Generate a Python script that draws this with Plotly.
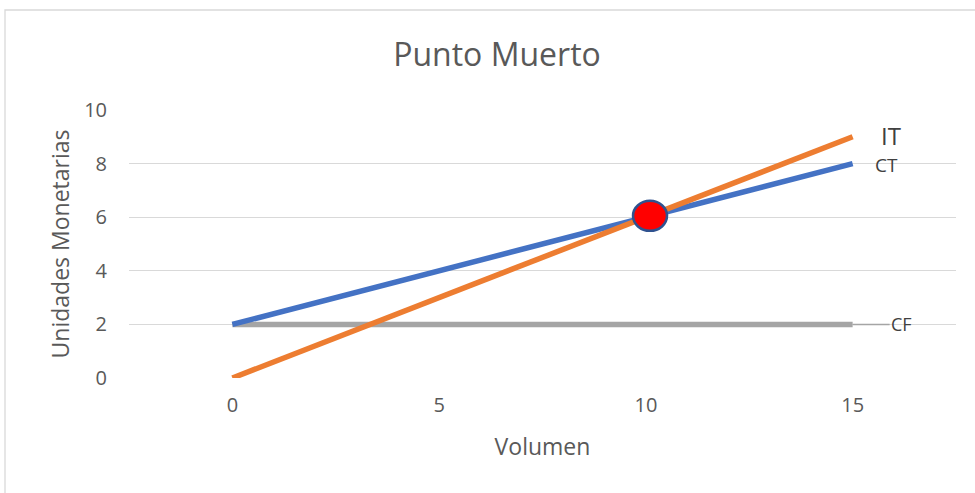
import plotly.graph_objects as go

# Break-even chart data
volumen = [0, 15]
ingreso_total = [0, 9]     # IT
coste_total = [2, 8]       # CT
coste_fijo = [2, 2]        # CF
punto_muerto = (10.1, 6.05)

x_ticks = [0, 5, 10, 15]
y_ticks = [0, 2, 4, 6, 8, 10]

FONT = "Open Sans"
GREY_TEXT = "#595959"

W, H = 975, 493
ML, MR, MT, MB = 129, 19, 110, 115

fig = go.Figure()

fig.add_trace(go.Scatter(x=volumen, y=coste_fijo, mode="lines",
                         line=dict(color="#A5A5A5", width=5.5), name="CF"))
fig.add_trace(go.Scatter(x=volumen, y=coste_total, mode="lines",
                         line=dict(color="#4472C4", width=5.5), name="CT"))
fig.add_trace(go.Scatter(x=volumen, y=ingreso_total, mode="lines",
                         line=dict(color="#ED7D31", width=5.5), name="IT"))

pw, ph = W - ML - MR, H - MT - MB


def px_to_paper_x(px):
    return (px - ML) / pw


def px_to_paper_y(py):
    return 1 - (py - MT) / ph


shapes = [
    # outer chart frame
    dict(type="rect", xref="paper", yref="paper",
         x0=px_to_paper_x(5), x1=px_to_paper_x(W + 20),
         y0=px_to_paper_y(H + 20), y1=px_to_paper_y(10),
         line=dict(color="#D9D9D9", width=1.3), fillcolor="rgba(0,0,0,0)", layer="below"),
    # break-even point marker
    dict(type="circle", xref="x", yref="y", xsizemode="pixel", ysizemode="pixel",
         xanchor=punto_muerto[0], yanchor=punto_muerto[1],
         x0=-17, x1=17, y0=-15, y1=15,
         fillcolor="#FF0000", line=dict(color="#2F528F", width=2.5)),
]

annotations = [
    dict(x=volumen[-1], y=ingreso_total[-1], text="IT", showarrow=False,
         xref="x", yref="y", xshift=38, yshift=1,
         font=dict(family=FONT, size=24, color="#404040")),
    dict(x=volumen[-1], y=coste_total[-1], text="CT", showarrow=False,
         xref="x", yref="y", xshift=34, yshift=-1,
         font=dict(family=FONT, size=19, color="#404040")),
    dict(x=volumen[-1], y=coste_fijo[-1], text="CF", showarrow=True,
         xref="x", yref="y", ax=49, ay=0, arrowhead=0, arrowwidth=1.5,
         arrowcolor="#A5A5A5", standoff=0,
         font=dict(family=FONT, size=18, color="#404040")),
]

fig.update_layout(
    width=W, height=H,
    margin=dict(l=ML, r=MR, t=MT, b=MB),
    paper_bgcolor="white", plot_bgcolor="white",
    showlegend=False,
    title=dict(text="Punto Muerto", x=497 / W, xanchor="center", xref="container",
               y=1 - 55 / H, yanchor="middle",
               font=dict(family=FONT, size=32, color=GREY_TEXT)),
    xaxis=dict(range=[-2.5, 17.5], tickvals=x_ticks, showgrid=False, zeroline=False,
               showline=False, ticks="", ticklabelstandoff=13,
               tickfont=dict(family=FONT, size=20, color=GREY_TEXT),
               title=dict(text="Volumen", standoff=21,
                          font=dict(family=FONT, size=23, color=GREY_TEXT))),
    yaxis=dict(range=[0, 10], tickvals=y_ticks, showgrid=True, gridcolor="#D9D9D9",
               gridwidth=1.3, zeroline=False, showline=False, ticks="",
               ticklabelstandoff=21,
               tickfont=dict(family=FONT, size=20, color=GREY_TEXT),
               title=dict(text="Unidades Monetarias", standoff=8,
                          font=dict(family=FONT, size=23, color=GREY_TEXT))),
    shapes=shapes,
    annotations=annotations,
)

fig.write_html("out.html")
